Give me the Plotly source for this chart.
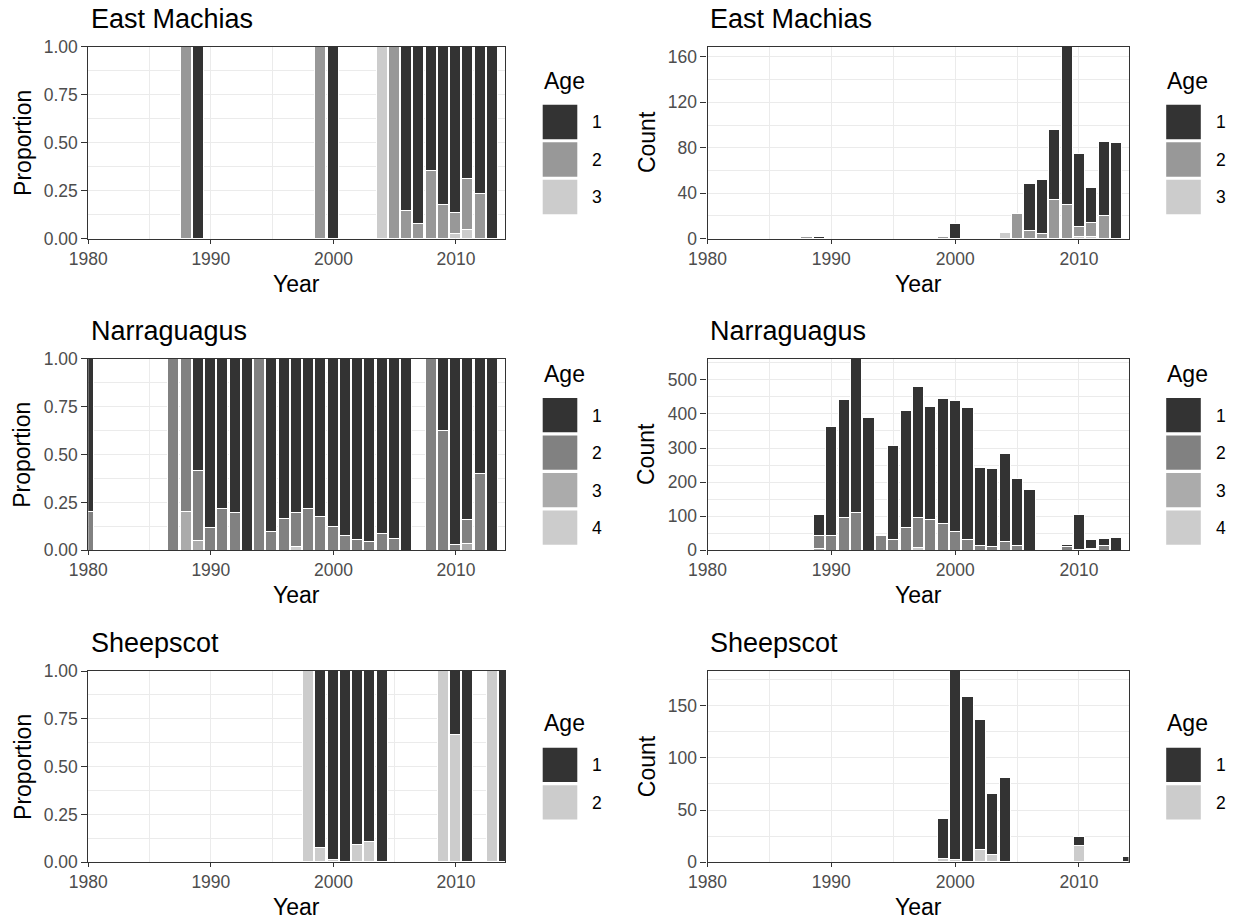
import plotly.graph_objects as go

# ---------------- data (counts by age class) ----------------
em_years = [1988, 1989, 1999, 2000, 2004, 2005, 2006, 2007, 2008, 2009, 2010, 2011, 2012, 2013]
em_age1 = [0, 2, 0, 13, 0, 0, 41, 48, 62, 139, 65, 31, 65, 84]
em_age2 = [2, 0, 2, 0, 0, 22, 7, 4, 34, 30, 8, 12, 20, 0]
em_age3 = [0, 0, 0, 0, 5, 0, 0, 0, 0, 0, 2, 2, 0, 0]

nr_years = [1980, 1987, 1988, 1989, 1990, 1991, 1992, 1993, 1994, 1995, 1996, 1997, 1998,
            1999, 2000, 2001, 2002, 2003, 2004, 2005, 2006, 2008, 2009, 2010, 2011, 2012, 2013]
nr_age1 = [4, 0, 0, 61, 322, 346, 452, 388, 0, 278, 342, 384, 331,
           367, 386, 386, 228, 227, 257, 197, 177, 0, 6, 100, 26, 21, 36]
nr_age2 = [1, 1, 4, 38, 42, 97, 110, 0, 43, 30, 67, 87, 91,
           77, 54, 32, 14, 11, 25, 13, 0, 1, 10, 3, 4, 14, 0]
nr_age3 = [0, 0, 1, 5, 0, 0, 0, 0, 0, 0, 0, 0, 0,
           0, 0, 0, 0, 0, 0, 0, 0, 0, 0, 0, 1, 0, 0]
nr_age4 = [0, 0, 0, 0, 0, 0, 0, 0, 0, 0, 0, 8, 0,
           0, 0, 0, 0, 0, 0, 0, 0, 0, 0, 0, 0, 0, 0]

sh_years = [1998, 1999, 2000, 2001, 2002, 2003, 2004, 2009, 2010, 2011, 2013, 2014]
sh_age1 = [0, 38, 181, 158, 124, 58, 81, 0, 8, 1, 0, 5]
sh_age2 = [1, 3, 2, 0, 12, 7, 0, 1, 16, 0, 1, 0]

rivers = ["East Machias", "Narraguagus", "Sheepscot"]
age_labels = {"East Machias": ["1", "2", "3"],
              "Narraguagus": ["1", "2", "3", "4"],
              "Sheepscot": ["1", "2"]}
river_data = {"East Machias": (em_years, [em_age1, em_age2, em_age3]),
              "Narraguagus": (nr_years, [nr_age1, nr_age2, nr_age3, nr_age4]),
              "Sheepscot": (sh_years, [sh_age1, sh_age2])}
x_ticks = [1980, 1990, 2000, 2010]
x_minor = [1985, 1995, 2005]
x_range = [1980, 2014]
count_ticks = {"East Machias": [0, 40, 80, 120, 160],
               "Narraguagus": [0, 100, 200, 300, 400, 500],
               "Sheepscot": [0, 50, 100, 150]}
prop_ticks = [0, 0.25, 0.5, 0.75, 1.0]

# ---------------- layout geometry (pixels) ----------------
W, H = 1238, 924
col_x = [(88.3, 505.0), (707.5, 1128.5)]
row_y = [(46.7, 238.5), (358.7, 550.3), (671.0, 862.3)]
ytitle_off = [66, 61]
FONT = "Liberation Sans, Arial, sans-serif"
GRID = "#EBEBEB"


def px(x):
    return x / W


def py(y):
    return 1 - y / H


def grey_pal(n, start=0.2, end=0.8, gamma=2.2):
    a, b = start ** gamma, end ** gamma
    out = []
    for i in range(n):
        v = (a + (b - a) * i / (n - 1)) ** (1 / gamma)
        c = round(v * 255)
        out.append("#%02X%02X%02X" % (c, c, c))
    return out


fig = go.Figure()
annotations = []
shapes = []
layout_axes = {}

for r, river in enumerate(rivers):
    years, ages = river_data[river]
    labels = age_labels[river]
    cols = grey_pal(len(labels))
    totals = [sum(v) for v in zip(*ages)]
    for c, kind in enumerate(["prop", "count"]):
        k = r * 2 + c + 1
        xa, ya = ("x%d" % k, "y%d" % k)
        # stack: oldest age at bottom, age 1 on top
        for i in reversed(range(len(ages))):
            vals = ages[i]
            if kind == "prop":
                vals = [v / t for v, t in zip(vals, totals)]
            fig.add_trace(go.Bar(x=years, y=vals, xaxis=xa, yaxis=ya, width=0.9,
                                 marker=dict(color=cols[i], line=dict(color="white", width=1)),
                                 showlegend=False, hoverinfo="x+y", name=labels[i]))
        x0, x1 = col_x[c]
        y0, y1 = row_y[r]
        if kind == "prop":
            yr = [0, 1]
            ytv = prop_ticks
            yminor = [0.125, 0.375, 0.625, 0.875]
            tfmt = ".2f"
        else:
            yr = [0, max(totals)]
            ytv = count_ticks[river]
            step = ytv[1] - ytv[0]
            yminor = [t + step / 2 for t in ytv if t + step / 2 < yr[1]]
            tfmt = "d"
        suffix = "" if k == 1 else str(k)
        layout_axes["xaxis" + suffix] = dict(
            domain=[px(x0), px(x1)], anchor=ya, range=x_range, tickvals=x_ticks, automargin=False,
            showgrid=True, gridcolor=GRID, gridwidth=1.4,
            minor=dict(tickvals=x_minor, showgrid=True, gridcolor=GRID, gridwidth=0.7, ticks=""),
            showline=True, linecolor="#333333", linewidth=1.1, mirror=True,
            ticks="outside", ticklen=4, tickwidth=1.1, tickcolor="#333333",
            tickfont=dict(size=17.5, color="#4D4D4D", family=FONT), zeroline=False)
        layout_axes["yaxis" + suffix] = dict(
            domain=[py(y1), py(y0)], anchor=xa, range=yr, tickvals=ytv, tickformat=tfmt,
            automargin=False,
            showgrid=True, gridcolor=GRID, gridwidth=1.4,
            minor=dict(tickvals=yminor, showgrid=True, gridcolor=GRID, gridwidth=0.7, ticks=""),
            showline=True, linecolor="#333333", linewidth=1.1, mirror=True,
            ticks="outside", ticklen=6, tickwidth=1.1, tickcolor="#333333",
            tickfont=dict(size=17.5, color="#4D4D4D", family=FONT), zeroline=False)
        # panel title
        annotations.append(dict(text=river, x=px(x0 + 0.5), y=py(y0 - 28), xref="paper", yref="paper",
                                xanchor="left", yanchor="middle", showarrow=False,
                                font=dict(size=27, color="black", family=FONT)))
        # x axis title
        annotations.append(dict(text="Year", x=px((x0 + x1) / 2), y=py(y1 + 45), xref="paper",
                                yref="paper", xanchor="center", yanchor="middle", showarrow=False,
                                font=dict(size=23, color="black", family=FONT)))
        # y axis title
        annotations.append(dict(text="Proportion" if kind == "prop" else "Count",
                                x=px(x0 - ytitle_off[c]), y=py((y0 + y1) / 2), xref="paper",
                                yref="paper", xanchor="center", yanchor="middle", textangle=-90,
                                showarrow=False, font=dict(size=23, color="black", family=FONT)))
        # legend (drawn manually, ggplot style)
        n = len(labels)
        kx0 = x1 + 37.7
        hb = 29.1 + 37.5 * n
        top = (y0 + y1) / 2 + 0.75 - hb / 2
        annotations.append(dict(text="Age", x=px(kx0 - 1), y=py(top + 8), xref="paper", yref="paper",
                                xanchor="left", yanchor="middle", showarrow=False,
                                font=dict(size=23, color="black", family=FONT)))
        ks = top + 32.3
        for i in range(n):
            ky0 = ks + i * 37.5
            shapes.append(dict(type="rect", xref="paper", yref="paper",
                               x0=px(kx0), x1=px(kx0 + 34.6), y0=py(ky0 + 34.3), y1=py(ky0),
                               fillcolor=cols[i], line=dict(width=0)))
            annotations.append(dict(text=labels[i], x=px(kx0 + 47.5), y=py(ky0 + 17.5), xref="paper",
                                    yref="paper", xanchor="left", yanchor="middle", showarrow=False,
                                    font=dict(size=17.5, color="black", family=FONT)))

fig.update_layout(
    width=W, height=H, margin=dict(l=0, r=0, t=0, b=0, autoexpand=False),
    paper_bgcolor="white", plot_bgcolor="white", barmode="stack", bargap=0,
    font=dict(family=FONT), annotations=annotations, shapes=shapes, **layout_axes)

fig.write_html("out.html", config={"displayModeBar": False},
               post_script="document.body.style.margin='0';document.body.style.overflow='hidden';")
